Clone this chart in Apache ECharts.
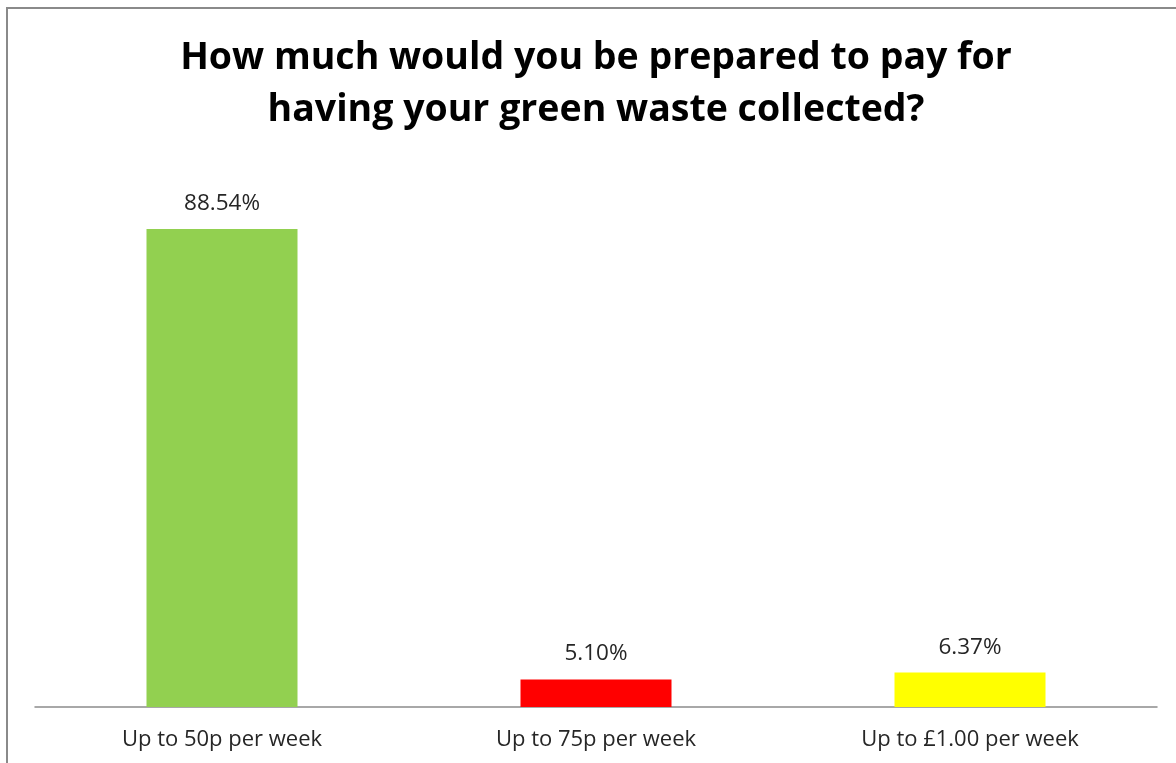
<!DOCTYPE html>
<html>
<head>
<meta charset="utf-8">
<script src="https://cdn.jsdelivr.net/npm/echarts@6/dist/echarts.min.js"></script>
<style>
html,body{margin:0;padding:0;background:#fff;}
#chart{width:1176px;height:763px;}
</style>
</head>
<body>
<div id="chart"></div>
<script>
const titleLines = ['How much would you be prepared to pay for', 'having your green waste collected?'];
const categories = ['Up to 50p per week', 'Up to 75p per week', 'Up to £1.00 per week'];
const values = [88.54, 5.10, 6.37];
const barColors = ['#92D050', '#FF0000', '#FFFF00'];

const chart = echarts.init(document.getElementById('chart'), null, {renderer: 'canvas'});
const option = {
  animation: false,
  backgroundColor: '#ffffff',
  grid: {left: 35, right: 19, top: 167, bottom: 56, containLabel: false},
  xAxis: {
    type: 'category',
    data: categories,
    axisLine: {show: true, lineStyle: {color: '#8c8c8c', width: 1.5}},
    axisTick: {show: false},
    axisLabel: {color: '#262626', fontFamily: 'Open Sans', fontSize: 22, margin: 22}
  },
  yAxis: {
    type: 'value',
    min: 0,
    max: 100,
    show: false,
    splitLine: {show: false}
  },
  series: [{
    type: 'bar',
    barWidth: 151,
    data: values.map((v, i) => ({value: v, itemStyle: {color: barColors[i]}})),
    label: {
      show: true,
      position: 'top',
      distance: 14,
      color: '#262626',
      fontFamily: 'Open Sans',
      fontSize: 22.5,
      formatter: p => p.value.toFixed(2) + '%'
    }
  }],
  graphic: [
    {
      type: 'rect',
      shape: {x: 7, y: 8, width: 1300, height: 900},
      style: {fill: 'none', stroke: '#8a8a8a', lineWidth: 2},
      silent: true
    },
    {
      type: 'text',
      x: 596,
      y: 84,
      style: {
        text: titleLines.join('\n'),
        fontFamily: 'Open Sans',
        fontWeight: 'bold',
        fontSize: 37.5,
        lineHeight: 52,
        fill: '#000000',
        textAlign: 'center',
        textVerticalAlign: 'middle'
      }
    }
  ]
};
chart.setOption(option);
</script>
</body>
</html>
